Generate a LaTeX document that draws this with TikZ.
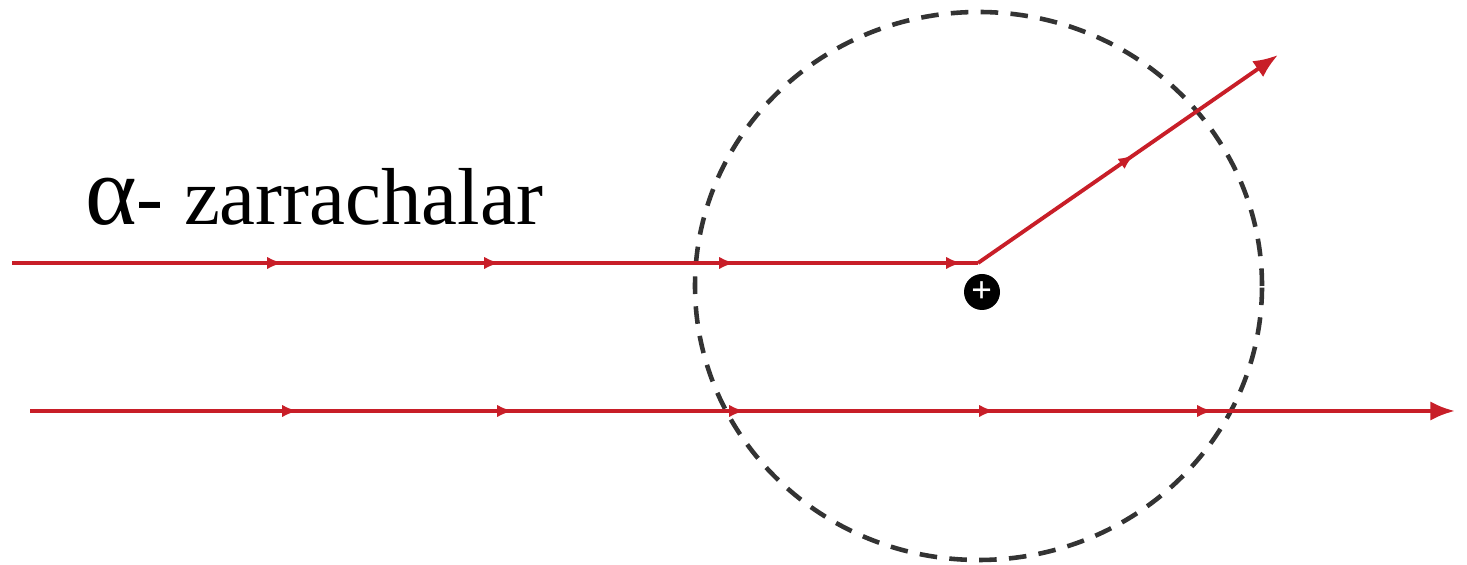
\documentclass[tikz,border=0pt]{standalone}
\usepackage{fontspec}
\setmainfont{Liberation Serif}
\usetikzlibrary{arrows.meta, positioning, decorations.markings}

\begin{document}
\begin{tikzpicture}[
    ray/.style={line width=2.2pt, draw={rgb,255:red,200;green,30;blue,40}},
    tick/.style={postaction={decorate, decoration={markings,
        mark=at position #1 with {\arrow{Latex[length=9pt, width=7pt]}}}}},
    nucleus/.style={circle, fill=black, minimum size=0.72cm, inner sep=0pt, text=white, font=\fontsize{21}{21}\bfseries\selectfont}
]
    \useasboundingbox (0,0) rectangle (29.34,11.3);

    % yadro va ta'sir sohasi
    \draw[line width=2.6pt, black!80, dash pattern=on 10pt off 7pt] (19.57,5.58) ellipse (5.67 and 5.48);
    \node[nucleus] (nuc) at (19.64,5.46) {+};

    % zarrachalar traektoriyalari
    \coordinate (inA) at (0.24,6.04);
    \coordinate (hit) at (19.56,6.04);
    \coordinate (outA) at (25.56,10.2);
    \coordinate (inB) at (0.6,3.08);
    \coordinate (outB) at (29.1,3.08);

    \draw[ray, tick=5.42cm, tick=9.76cm, tick=14.46cm, tick=19.0cm] (inA) -- (hit);
    \draw[ray, -{Latex[length=14pt, width=11pt]}, tick=3.8cm] (hit) -- (outA);
    \draw[ray, -{Latex[length=14pt, width=11pt]}, tick=5.36cm, tick=9.66cm, tick=14.3cm, tick=19.3cm, tick=23.66cm] (inB) -- (outB);

    % yozuv
    \node[anchor=base west, inner sep=0pt, font=\fontsize{46}{50}\selectfont] (label) at (1.7,6.8) {{\fontsize{56}{56}\selectfont α}- zarrachalar};
\end{tikzpicture}
\end{document}
